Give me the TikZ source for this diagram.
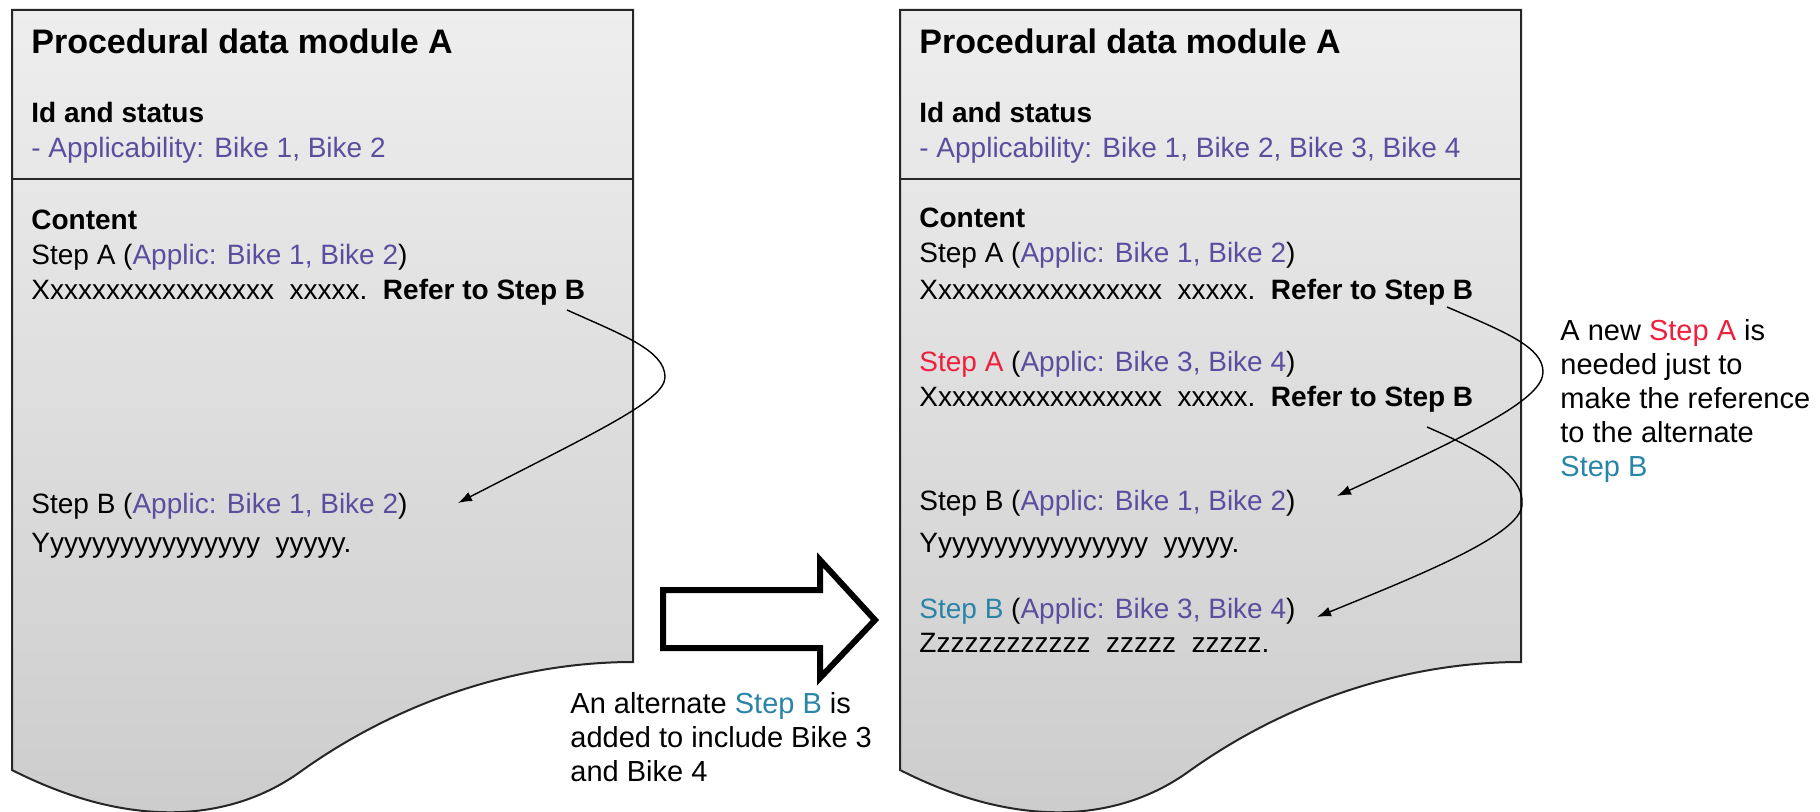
\documentclass[tikz,border=0pt]{standalone}
\usepackage{fontspec}
\setmainfont{Liberation Sans}
\usetikzlibrary{arrows.meta}

\definecolor{applic}{RGB}{92,78,158}
\definecolor{newa}{RGB}{238,32,60}
\definecolor{altb}{RGB}{42,132,168}
\definecolor{pagetop}{RGB}{238,238,238}
\definecolor{pagebot}{RGB}{204,204,204}
\newcommand{\ap}[1]{{\color{applic}#1}}

\begin{document}
\begin{tikzpicture}[x=0.5pt,y=-0.5pt,
    docpage/.style={draw=black!85,line width=1pt,top color=pagetop,bottom color=pagebot},
    title/.style={anchor=base west,inner sep=0pt,font=\fontsize{17}{20}\selectfont\bfseries},
    head/.style={anchor=base west,inner sep=0pt,font=\fontsize{14}{17}\selectfont\bfseries},
    txt/.style={anchor=base west,inner sep=0pt,font=\fontsize{14}{17}\selectfont},
    note/.style={anchor=north west,inner sep=0pt,align=left,font=\fontsize{14.5}{17}\selectfont},
    ref/.style={draw=black,line width=0.7pt,-{Latex[length=7pt,width=5pt]}},
    bigarrow/.style={draw=black,line width=3pt,fill=white}]
\useasboundingbox (0,0) rectangle (1820,812);

%% the two data modules (page with a torn bottom)
\foreach \dx in {0,888} {
  \path[docpage,shift={(\dx,0)}] (12,10) -- (633,10) -- (633,662)
    .. controls (520,662) and (400,700) .. (300,772)
    .. controls (230,822) and (130,830) .. (12,770) -- cycle;
  \draw[draw=black!85,line width=1pt,shift={(\dx,0)}] (12,179) -- (633,179);
}

%% left module
\node[title] (titleL)   at (31,54)  {Procedural data module A};
\node[head]  (idL)      at (31,123) {Id and status};
\node[txt]   (applL)    at (31,158) {\ap{- Applicability: Bike 1, Bike 2}};
\node[head]  (contentL) at (31,230) {Content};
\node[txt]   (stepAL)   at (31,265) {Step A (\ap{Applic: Bike 1, Bike 2})};
\node[txt]   (xL)       at (31,300) {Xxxxxxxxxxxxxxxxx~~xxxxx.~~\textbf{Refer to Step B}};
\node[txt]   (stepBL)   at (31,513) {Step B (\ap{Applic: Bike 1, Bike 2})};
\node[txt]   (yL)       at (31,552) {Yyyyyyyyyyyyyyyy~~yyyyy.};

%% right module
\node[title] (titleR)   at (919,54)  {Procedural data module A};
\node[head]  (idR)      at (919,123) {Id and status};
\node[txt]   (applR)    at (919,158) {\ap{- Applicability: Bike 1, Bike 2, Bike 3, Bike 4}};
\node[head]  (contentR) at (919,228) {Content};
\node[txt]   (stepAR)   at (919,263) {Step A (\ap{Applic: Bike 1, Bike 2})};
\node[txt]   (xR)       at (919,300) {Xxxxxxxxxxxxxxxxx~~xxxxx.~~\textbf{Refer to Step B}};
\node[txt]   (stepA2R)  at (919,372) {{\color{newa}Step A} (\ap{Applic: Bike 3, Bike 4})};
\node[txt]   (x2R)      at (919,407) {Xxxxxxxxxxxxxxxxx~~xxxxx.~~\textbf{Refer to Step B}};
\node[txt]   (stepBR)   at (919,510) {Step B (\ap{Applic: Bike 1, Bike 2})};
\node[txt]   (yR)       at (919,552) {Yyyyyyyyyyyyyyyy~~yyyyy.};
\node[txt]   (stepB2R)  at (919,618) {{\color{altb}Step B} (\ap{Applic: Bike 3, Bike 4})};
\node[txt]   (zR)       at (919,652) {Zzzzzzzzzzzz~~zzzzz~~zzzzz.};

%% notes
\node[note] (altnote) at (570,692) {An alternate {\color{altb}Step B} is\\added to include Bike 3\\and Bike 4};
\node[note] (newnote) at (1560,319) {A new {\color{newa}Step A} is\\needed just to\\make the reference\\to the alternate\\{\color{altb}Step B}};

\draw[bigarrow] (663,590) -- (820,590) -- (820,560) -- (875,620) -- (820,678)
  -- (820,648) -- (663,648) -- cycle;

%% references between the steps
\coordinate (fromL)  at (567,310);
\coordinate (toL)    at (458,503);
\coordinate (fromR)  at (1447,307);
\coordinate (toR)    at (1337,496);
\coordinate (fromR2) at (1427,427);
\coordinate (toR2)   at (1317,617);
\draw[ref] (fromL) .. controls (620,334) and (665,350) .. (665,377)
  .. controls (665,400) and (600,430) .. (toL);
\draw[ref] (fromR) .. controls (1505,332) and (1543,347) .. (1543,372)
  .. controls (1543,398) and (1480,430) .. (toR);
\draw[ref] (fromR2) .. controls (1480,450) and (1525,475) .. (1522,505)
  .. controls (1520,535) and (1420,575) .. (toR2);
\end{tikzpicture}
\end{document}
